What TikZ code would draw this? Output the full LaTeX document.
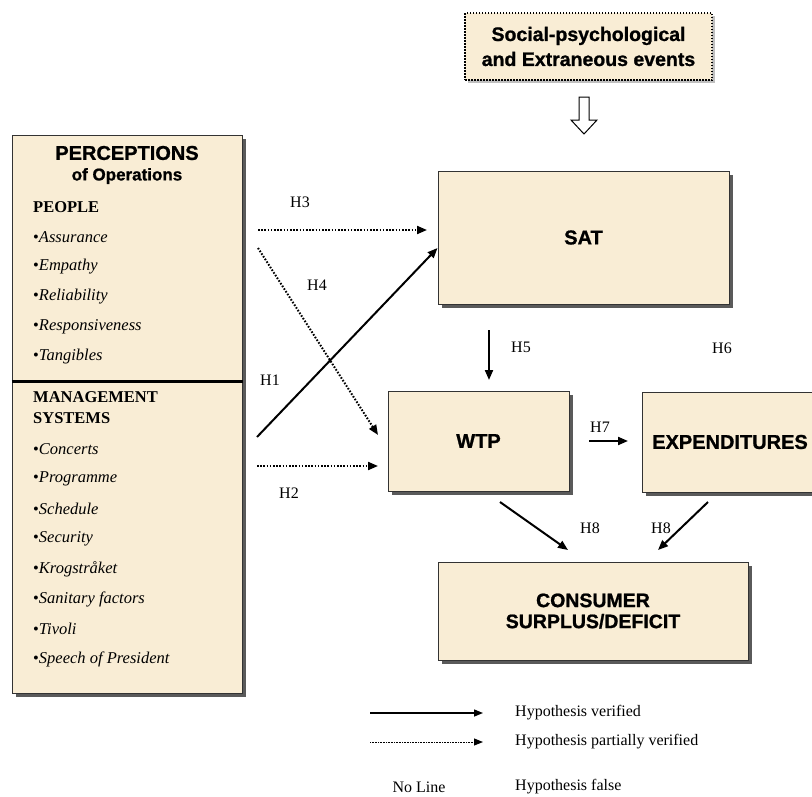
\documentclass[tikz,border=0pt]{standalone}
\usepackage{fontspec}
\setmainfont{Liberation Serif}
\newfontfamily\hsans{Liberation Sans}[BoldFeatures={FakeBold=1}]
\usetikzlibrary{arrows.meta,shadows}
\definecolor{parch}{HTML}{F9EDD5}
\definecolor{shad}{HTML}{5A5A5A}
\begin{document}
\begin{tikzpicture}[x=1pt,y=-1pt,
  box/.style={draw=black!80, line width=1pt, fill=parch, inner sep=0pt, align=center,
    font=\hsans\bfseries\fontsize{20}{22}\selectfont,
    drop shadow={shadow xshift=4pt, shadow yshift=-4pt, fill=shad, opacity=1}},
  lbl/.style={font=\fontsize{16}{18}\selectfont, inner sep=0pt},
  item/.style={font=\fontsize{16.5}{18}\selectfont, inner sep=0pt, anchor=west},
  verified/.style={line width=2pt, -{Triangle[length=10pt,width=8pt]}},
  partial/.style={line width=2pt, dash pattern=on 1.6pt off 1.6pt, -{Triangle[length=10pt,width=8pt]}},
]
\useasboundingbox (0,0) rectangle (812,796);

% top box
\node[draw=black, line width=1.6pt, dash pattern=on 1.5pt off 1.5pt, fill=parch, inner sep=0pt,
  minimum width=247pt, minimum height=67pt, align=center,
  font=\hsans\bfseries\fontsize{19.5}{25}\selectfont,
  drop shadow={shadow xshift=3pt, shadow yshift=-3pt, fill=black!25, opacity=1}]
  (ext) at (588.5,46.5) {Social-psychological\\and Extraneous events};

% hollow arrow
\draw[line width=1pt, fill=white] (579,97) -- (589,97) -- (589,120) -- (597,120) -- (584,134)
  -- (571,120) -- (579,120) -- cycle;

% left box
\node[box, minimum width=230pt, minimum height=558pt] (left) at (127,414) {};
\coordinate (dv) at (0,381);
\draw[line width=3pt] (left.west |- dv) -- (left.east |- dv);
\node[inner sep=0pt, font=\hsans\bfseries\fontsize{20}{22}\selectfont] (perc) at (127,153) {PERCEPTIONS};
\node[inner sep=0pt, font=\hsans\bfseries\fontsize{17}{19}\selectfont] (ofop) at (127,176) {of Operations};
\node[item, font=\bfseries\fontsize{16.5}{18}\selectfont] (people) at (33,207) {PEOPLE};
\node[item] (i1) at (33,237) {•\textit{Assurance}};
\node[item] (i2) at (33,267) {•\textit{Empathy}};
\node[item] (i3) at (33,297) {•\textit{Reliability}};
\node[item] (i4) at (33,327) {•\textit{Responsiveness}};
\node[item] (i5) at (33,357) {•\textit{Tangibles}};
\node[item, font=\bfseries\fontsize{16.5}{18}\selectfont] (mgmt) at (33,397) {MANAGEMENT};
\node[item, font=\bfseries\fontsize{16.5}{18}\selectfont] (sys) at (33,418) {SYSTEMS};
\node[item] (j1) at (33,449) {•\textit{Concerts}};
\node[item] (j2) at (33,479) {•\textit{Programme}};
\node[item] (j3) at (33,509) {•\textit{Schedule}};
\node[item] (j4) at (33,539) {•\textit{Security}};
\node[item] (j5) at (33,569) {•\textit{Krogstråket}};
\node[item] (j6) at (33,599) {•\textit{Sanitary factors}};
\node[item] (j7) at (33,629) {•\textit{Tivoli}};
\node[item] (j8) at (33,659) {•\textit{Speech of President}};

% main boxes
\node[box, minimum width=291pt, minimum height=133pt] (sat) at (583.5,237.5) {SAT};
\node[box, minimum width=181pt, minimum height=100pt] (wtp) at (478.5,441) {WTP};
\node[box, minimum width=176pt, minimum height=100pt] (exp) at (730,442) {EXPENDITURES};
\node[box, minimum width=310pt, minimum height=98pt, font=\hsans\bfseries\fontsize{19.5}{21}\selectfont] (cons) at (593,611) {CONSUMER\\SURPLUS/DEFICIT};

% connector end points
\coordinate (h3a) at (258,230);
\coordinate (h3b) at (427,230);
\coordinate (h4a) at (258,248);
\coordinate (h4b) at (378,435);
\coordinate (h1a) at (257,437);
\coordinate (h1y) at (0,248);
\coordinate (h2a) at (257,466);
\coordinate (h2b) at (378,466);
\coordinate (h5a) at (489,330);
\coordinate (h5b) at (489,380);
\coordinate (h7a) at (589,441);
\coordinate (h7b) at (628,441);
\coordinate (h8a) at (500,502);
\coordinate (h8b) at (568,550);
\coordinate (h8c) at (708,502);
\coordinate (h8d) at (658,550);

\draw[partial] (h3a) -- (h3b);
\draw[partial] (h4a) -- (h4b);
\draw[verified] (h1a) -- (sat.west |- h1y);
\draw[partial] (h2a) -- (h2b);
\draw[verified] (h5a) -- (h5b);
\draw[verified] (h7a) -- (h7b);
\draw[verified] (h8a) -- (h8b);
\draw[verified] (h8c) -- (h8d);

% labels
\node[lbl] (l3) at (300,202) {H3};
\node[lbl] (l4) at (317,285) {H4};
\node[lbl] (l1) at (270,380) {H1};
\node[lbl] (l2) at (289,493) {H2};
\node[lbl] (l5) at (521,347) {H5};
\node[lbl] (l6) at (722,348) {H6};
\node[lbl] (l7) at (600,427) {H7};
\node[lbl] (l8a) at (590,528) {H8};
\node[lbl] (l8b) at (661,528) {H8};

% legend
\coordinate (lg1a) at (370,713);
\coordinate (lg1b) at (483,713);
\coordinate (lg2a) at (370,742);
\coordinate (lg2b) at (483,742);
\draw[line width=1.4pt, -{Triangle[length=9pt,width=7pt]}] (lg1a) -- (lg1b);
\draw[line width=1pt, dash pattern=on 0.8pt off 0.8pt, -{Triangle[length=9pt,width=7pt]}] (lg2a) -- (lg2b);
\node[lbl, anchor=west] (t1) at (515,713) {Hypothesis verified};
\node[lbl, anchor=west] (t2) at (515,742) {Hypothesis partially verified};
\node[lbl] (t0) at (419,787) {No Line};
\node[lbl, anchor=west] (t3) at (515,787) {Hypothesis false};
\end{tikzpicture}
\end{document}
